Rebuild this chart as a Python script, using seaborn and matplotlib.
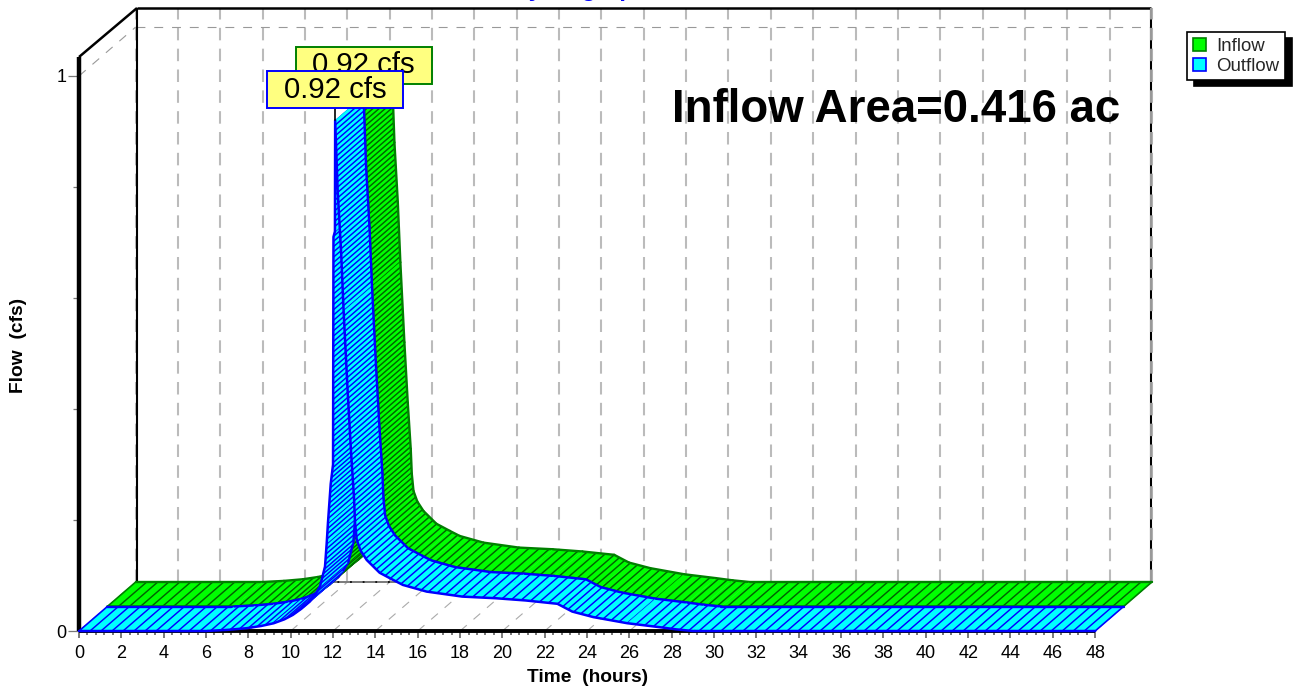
import numpy as np
import pandas as pd
import seaborn as sns
import matplotlib.pyplot as plt
from matplotlib.patches import Patch, Rectangle
from matplotlib.transforms import IdentityTransform

# hydrograph values (inflow and outflow are the same here)
time_hr = [0, 6.0, 7.0, 7.9, 8.6, 9.2, 9.7, 10.1, 10.5, 10.9, 11.15, 11.38, 11.62, 11.7, 11.76,
           11.89, 12.0, 12.02, 12.09, 12.1, 12.22, 12.38, 12.5, 12.69, 12.85, 12.99, 13.04,
           13.12, 13.3, 13.59, 14.2, 14.84, 15.3, 16.42, 18.1, 19.7, 21.1, 22.6, 23.3, 24.3,
           25.9, 27.4, 28.2, 29, 48]
inflow_cfs = [0, 0, 0.002, 0.005, 0.009, 0.014, 0.021, 0.029, 0.04, 0.053, 0.065, 0.08, 0.116, 0.158,
              0.195, 0.265, 0.30, 0.71, 0.72, 0.92, 0.792, 0.684, 0.576, 0.432, 0.323, 0.24, 0.195,
              0.164, 0.145, 0.128, 0.105, 0.092, 0.083, 0.071, 0.062, 0.059, 0.055, 0.049, 0.035,
              0.025, 0.014, 0.007, 0.003, 0, 0]
outflow_cfs = list(inflow_cfs)
peak_label = "0.92 cfs"
x_ticks = list(range(0, 49, 2))
y_ticks = [0, 1]
WIDTH, HEIGHT = 1294, 688
PX_X = 21.17   # pixels per hour
PX_Y = 555.0   # pixels per cfs
DX = 2.68      # depth of the box, hours
DY = 49 / PX_Y # depth of the box, cfs
TOP = (631 - 8) / PX_Y
RIGHT = (1151 - 79) / PX_X

sns.set_theme(style="white")
plt.rcParams['font.family'] = ['Liberation Sans', 'DejaVu Sans']


def fx(x):
    return x / WIDTH


def fy(y):
    return 1 - y / HEIGHT


fig = plt.figure(figsize=(12.94, 6.88), dpi=100)
ax = fig.add_axes([fx(79), fy(631), fx(1151 - 79), (631 - 8) / HEIGHT])
ax.set_xlim(0, RIGHT)
ax.set_ylim(0, TOP)
for side in ax.spines.values():
    side.set_visible(False)

# ticks
ax.set_xticks(x_ticks)
ax.set_xticks(np.arange(0, 48.01, 0.4), minor=True)
ax.set_yticks(y_ticks)
ax.set_yticks(np.arange(0, 1.01, 0.2), minor=True)
ax.tick_params(axis='x', which='major', bottom=True, length=5, width=1.1, color='#555555', labelsize=13, pad=5, labelcolor='black')
ax.tick_params(axis='x', which='minor', bottom=True, length=3, width=1.1, color='#555555')
ax.tick_params(axis='y', which='major', left=True, length=8, width=0.9, color='#777777', labelsize=13, pad=1, labelcolor='black')
ax.tick_params(axis='y', which='minor', left=True, length=4, width=0.9, color='#777777')

# back wall grid and floor lines
for t in x_ticks:
    ax.plot([t + DX, t + DX], [DY, TOP], color='#bbbbbb', lw=1.5, dashes=(6, 4), clip_on=False, zorder=1)
    ax.plot([t, t + DX], [0, DY], color='#aaaaaa', lw=0.8, dashes=(8, 8), clip_on=False, zorder=1)
ax.plot([0, DX], [1, 1 + DY], color='#999999', lw=0.8, dashes=(8, 8), zorder=1)
ax.plot([DX, RIGHT], [1 + DY, 1 + DY], color='#999999', lw=0.8, dashes=(8, 8), clip_on=False, zorder=1)

# box frame
frame = dict(color='black', solid_capstyle='butt', clip_on=False, zorder=1.5)
ax.plot([2.74, 2.74], [DY, TOP], lw=1.5, **frame)
ax.plot([2.74, RIGHT], [TOP, TOP], lw=1.8, **frame)
ax.plot([0, 2.74], [TOP - DY, TOP], lw=1.8, **frame)
ax.plot([RIGHT, RIGHT], [DY, TOP], lw=1.5, **frame)
ax.plot([2.74, RIGHT], [DY, DY], lw=1.3, **frame)
ax.plot([RIGHT, RIGHT], [DY, TOP], color='#999999', lw=1.5, dashes=(6, 4), clip_on=False, zorder=1.6)
ax.plot([2.74, RIGHT], [DY, DY], color='#888888', lw=1.3, dashes=(6, 1), clip_on=False, zorder=1.6)
ax.plot([0, 0], [0, TOP - DY], lw=3.2, **frame)
ax.plot([0, 48], [0, 0], lw=2.8, **frame)


def draw_ribbon(times, flows, z0, z1, face, edge, hatch):
    # painted strip by strip in time order, so the falling limb covers the rising one
    d0 = (z0 * DX, z0 * DY)
    d1 = (z1 * DX, z1 * DY)
    used = 0.0
    for i in range(len(times) - 1):
        ta, tb = times[i], times[i + 1]
        qa, qb = flows[i], flows[i + 1]
        xs = [ta + d0[0], tb + d0[0], tb + d1[0], ta + d1[0]]
        ys = [qa + d0[1], qb + d0[1], qb + d1[1], qa + d1[1]]
        ax.fill(xs, ys, facecolor=face, edgecolor=face, lw=0.3, zorder=2, clip_on=False)
        # hatch runs along the depth, tighter on the steep parts
        step = abs(tb - ta) / 0.52 + abs(qb - qa) / 0.0095
        n = int(np.floor(used + step) - np.floor(used))
        for k in range(n):
            frac = (np.floor(used) + k + 1 - used) / step
            t = ta + frac * (tb - ta)
            q = qa + frac * (qb - qa)
            ax.plot([t + d0[0], t + d1[0]], [q + d0[1], q + d1[1]], color=hatch, lw=1.05,
                    solid_capstyle='butt', zorder=2, clip_on=False)
        used += step
        ax.plot([ta + d1[0], tb + d1[0]], [qa + d1[1], qb + d1[1]], color=edge, lw=1.7, zorder=2, clip_on=False)
    for t, q in [(times[0], flows[0]), (times[-1], flows[-1])]:
        ax.plot([t + d0[0], t + d1[0]], [q + d0[1], q + d1[1]], color=edge, lw=1.2, zorder=2, clip_on=False)
    front = pd.DataFrame({"time": times, "flow": flows})
    front["time"] += d0[0]
    front["flow"] += d0[1]
    sns.lineplot(data=front, x="time", y="flow", color=edge, lw=1.8, sort=False, estimator=None,
                 ax=ax, zorder=2, clip_on=False)


draw_ribbon(time_hr, inflow_cfs, 0.5, 1.0, '#00ff00', '#008000', '#006400')
draw_ribbon(time_hr, outflow_cfs, 0.0, 0.5, '#00ffff', '#0000ff', '#0000ff')
ax.set_xlim(0, RIGHT)
ax.set_ylim(0, TOP)
ax.set_xlabel("")
ax.set_ylabel("")

# peak markers
fig.canvas.draw()
ids = IdentityTransform()
for series, z, edge in [(inflow_cfs, 0.5, '#008000'), (outflow_cfs, 0.0, '#0000ff')]:
    i = int(np.argmax(series))
    px, py = ax.transData.transform((time_hr[i] + z * DX, series[i] + z * DY))
    ax.plot([px, px], [py, py + 12], color='black', lw=1.2, transform=ids, zorder=2.5, clip_on=False)
    ax.add_patch(Rectangle((px - 68, py + 12), 136, 37, facecolor='#ffff80', edgecolor=edge, lw=1.4,
                           transform=ids, zorder=3, clip_on=False))
    ax.text(px, py + 30.5, peak_label, fontsize=21.2, ha='center', va='center', color='black',
            transform=ids, zorder=3, clip_on=False)
ax.set_xlim(0, RIGHT)
ax.set_ylim(0, TOP)

# texts
fig.text(fx(511), fy(-4), "Hydrograph", fontsize=17.6, fontweight='bold', color='#0000ff', ha='left', va='baseline')
fig.text(fx(672), fy(122), "Inflow Area=0.416 ac", fontsize=32.9, fontweight='bold', color='black', ha='left', va='baseline')
fig.text(fx(587.5), fy(678), "Time  (hours)", fontsize=13.75, fontweight='bold', color='black', ha='center', va='center')
fig.text(fx(19), fy(345), "Flow  (cfs)", fontsize=13.75, fontweight='bold', color='black', ha='center', va='center', rotation=90)

# legend
handles = [Patch(facecolor='#00ff00', edgecolor='#008000', lw=1.2, label="Inflow"),
           Patch(facecolor='#00ffff', edgecolor='#0000ff', lw=1.2, label="Outflow")]
leg = ax.legend(handles=handles, loc='upper left', bbox_to_anchor=(fx(1187), fy(32)), bbox_transform=fig.transFigure,
                borderaxespad=0, fontsize=13.4, fancybox=False, framealpha=1, edgecolor='black',
                handlelength=0.72, handleheight=0.72, handletextpad=0.55, labelspacing=0.15, borderpad=0.3,
                shadow=dict(color='black', alpha=1, ox=5, oy=-4.5))
leg.get_frame().set_linewidth(1.2)
leg.set_zorder(5)

fig.savefig("out.png", dpi=100)
